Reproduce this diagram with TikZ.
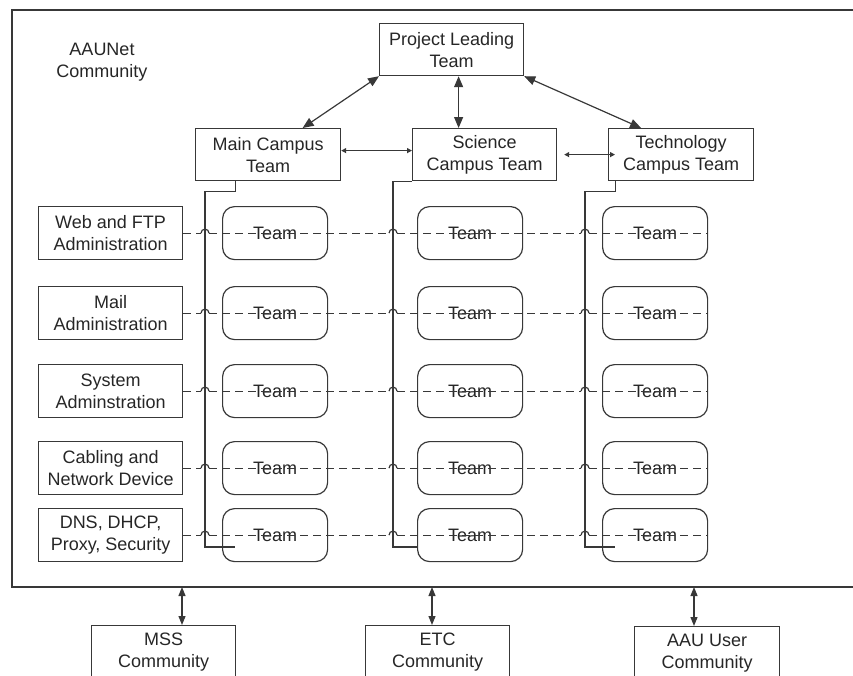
\documentclass[tikz,border=0pt]{standalone}
\usepackage{fontspec}
\setmainfont{Liberation Sans}
\usetikzlibrary{arrows.meta,calc}
\begin{document}
\begin{tikzpicture}[x=1pt,y=-1pt,
 ln/.style={draw=black!78, line width=1.2pt},
 lbl/.style={inner sep=0pt, align=center, text=black!85, font=\fontsize{18}{22}\selectfont},
 box/.style={ln, lbl, rectangle, anchor=north west, minimum width=144pt, minimum height=53pt},
 teambox/.style={box, rounded corners=12pt, minimum width=105pt},
 bigarrow/.style={ln, {Triangle[length=11pt,width=9pt]}-{Triangle[length=11pt,width=9pt]}},
 midarrow/.style={ln, {Triangle[length=9pt,width=7pt]}-{Triangle[length=9pt,width=7pt]}},
 smallarrow/.style={ln, {Triangle[length=5pt,width=5pt]}-{Triangle[length=5pt,width=5pt]}},
 dashline/.style={ln, dash pattern=on 8pt off 5pt},
]
\useasboundingbox (0,0) rectangle (853,675);
% outer community frame
\draw[ln] (12,10) rectangle (880,587);
\node[lbl] (aaunet) at (102,62) {AAUNet\\Community};

% top teams
\node[box, minimum height=52pt] (proj) at (379,23) {Project Leading\\Team};
\node[box, minimum height=52pt, minimum width=145pt] (main) at (195,128) {Main Campus\\Team};
\node[box, minimum height=52pt] (sci) at (412,128) {Science\\Campus Team};
\node[box, minimum height=52pt, minimum width=145pt] (tech) at (608,128) {Technology\\Campus Team};

\draw[bigarrow] (proj.south west) -- ([xshift=34.5pt]main.north);
\draw[bigarrow] ([xshift=7pt]proj.south) -- ([xshift=7pt]proj.south |- sci.north);
\draw[bigarrow] (proj.south east) -- ([xshift=-40pt]tech.north);
\draw[smallarrow] ([yshift=4pt]main.east) -- ([yshift=4pt]sci.west);
\draw[smallarrow] ([xshift=7pt]sci.east) -- ([xshift=7pt]tech.west);

% vertical bracket lines
\coordinate (v1) at (205,547);
\coordinate (v2) at (393,547);
\coordinate (v3) at (585,547);
\draw[ln] ([xshift=-32.5pt]main.south) -- ++(0,10) -| (v1) -- ++(30,0);
\draw[ln] (sci.south west) -| (v2) -- ++(24,0);
\draw[ln] ([xshift=-65.5pt]tech.south) -- ++(0,10) -| (v3) -- ++(30,0);

% rows
\foreach \n/\yy/\txt in {1/206/{Web and FTP\\Administration},
                        2/286/{Mail\\Administration},
                        3/364/{System\\Adminstration},
                        4/441/{Cabling and\\Network Device},
                        5/508/{DNS, DHCP,\\Proxy, Security}}{
  \node[box] (l\n) at (38,\yy) {\txt};
  \node[teambox] (ta\n) at (222,\yy) {Team};
  \node[teambox] (tb\n) at (417,\yy) {Team};
  \node[teambox] (tc\n) at (602,\yy) {Team};
  \draw[dashline] (l\n.east) -- ([xshift=-4pt]l\n.east -| v1);
  \draw[ln] ([xshift=-4pt]l\n.east -| v1) arc[start angle=180,end angle=0,radius=4pt];
  \draw[dashline] ([xshift=4pt]l\n.east -| v1) -- ([xshift=-4pt]l\n.east -| v2);
  \draw[ln] ([xshift=-4pt]l\n.east -| v2) arc[start angle=180,end angle=0,radius=4pt];
  \draw[dashline] ([xshift=4pt]l\n.east -| v2) -- ([xshift=-4pt]l\n.east -| v3);
  \draw[ln] ([xshift=-4pt]l\n.east -| v3) arc[start angle=180,end angle=0,radius=4pt];
  \draw[dashline] ([xshift=4pt]l\n.east -| v3) -- (tc\n.east);
}

% outside communities
\node[box] (mss) at (91,625) {MSS\\Community};
\node[box] (etc) at (365,625) {ETC\\Community};
\node[box, minimum width=145pt] (aau) at (634,626) {AAU User\\Community};
\coordinate (f1) at (182,587);
\coordinate (f2) at (432,587);
\coordinate (f3) at (694,587);
\draw[midarrow] (f1) -- (f1 |- mss.north);
\draw[midarrow] (f2) -- (f2 |- etc.north);
\draw[midarrow] (f3) -- (f3 |- aau.north);
\end{tikzpicture}
\end{document}
